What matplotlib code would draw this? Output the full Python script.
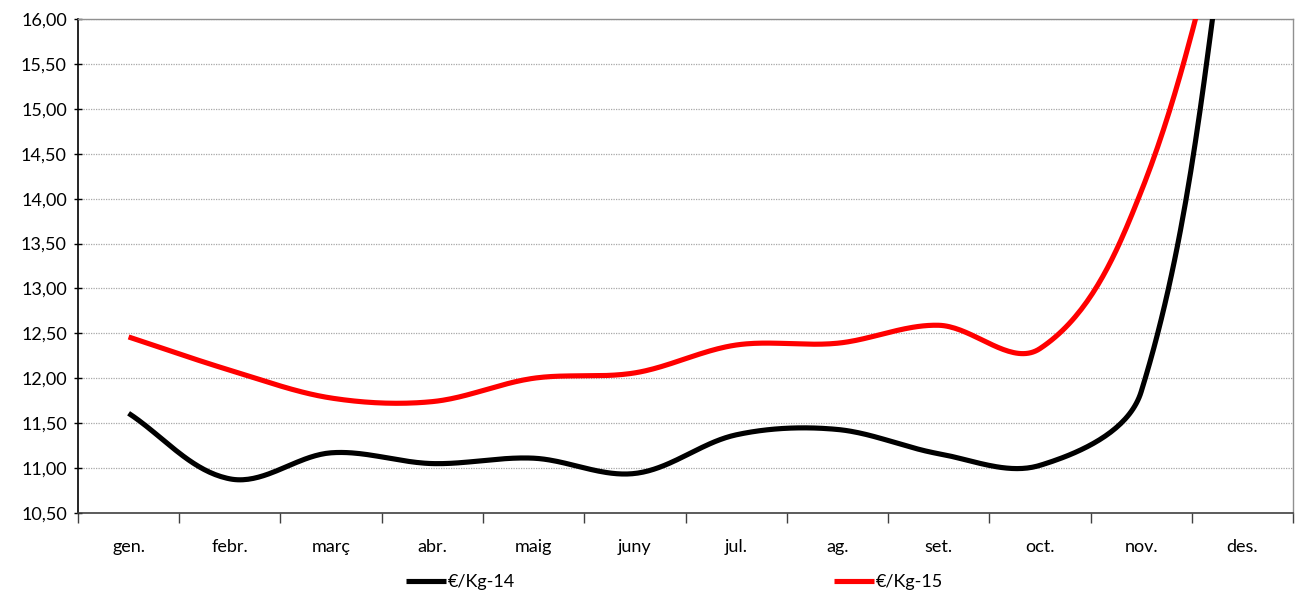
import numpy as np
import matplotlib.pyplot as plt
from matplotlib.ticker import FuncFormatter, MultipleLocator

months = ["gen.", "febr.", "març", "abr.", "maig", "juny", "jul.", "ag.", "set.", "oct.", "nov.", "des."]
kg_14 = [11.61, 10.88, 11.17, 11.05, 11.11, 10.94, 11.37, 11.43, 11.16, 11.03, 11.85, 18.3]
kg_15 = [12.46, 12.09, 11.78, 11.74, 12.00, 12.06, 12.37, 12.39, 12.59, 12.33, 14.08, 18.0]

plt.rcParams['font.family'] = ['Lato', 'DejaVu Sans']

fig = plt.figure(figsize=(12.95, 5.94), dpi=100)
ax = fig.add_axes([0.0602, 0.1364, 0.9383, 0.8316])

YMIN, YMAX = 10.5, 16.0
# pixels per x unit / per y unit, used so the smoothing works in screen space
PX_X, PX_Y = 101.25, 89.8


def smooth(ys, n=40):
    # excel-ish smoothed line: bezier with tangents from neighbours,
    # handle length a third of the segment length
    pts = np.array([[i * PX_X, y * PX_Y] for i, y in enumerate(ys)])
    m = len(pts)
    tang = []
    for i in range(m):
        a = pts[max(i - 1, 0)]
        b = pts[min(i + 1, m - 1)]
        d = b - a
        tang.append(d / np.hypot(*d))
    out = []
    for i in range(m - 1):
        p0, p3 = pts[i], pts[i + 1]
        L = np.hypot(*(p3 - p0)) / 3
        p1 = p0 + tang[i] * L
        p2 = p3 - tang[i + 1] * L
        t = np.linspace(0, 1, n)[:, None]
        seg = (1 - t) ** 3 * p0 + 3 * (1 - t) ** 2 * t * p1 + 3 * (1 - t) * t ** 2 * p2 + t ** 3 * p3
        out.append(seg if i == 0 else seg[1:])
    out = np.vstack(out)
    return out[:, 0] / PX_X, out[:, 1] / PX_Y


x14, y14 = smooth(kg_14)
x15, y15 = smooth(kg_15)
ax.plot(x14, y14, color='black', lw=3.7, solid_capstyle='butt', label='€/Kg-14', zorder=3)
ax.plot(x15, y15, color='red', lw=3.7, solid_capstyle='butt', label='€/Kg-15', zorder=3)

ax.set_xlim(-0.5, len(months) - 0.5)
ax.set_ylim(YMIN, YMAX)
ax.yaxis.set_major_locator(MultipleLocator(0.5))
ax.yaxis.set_major_formatter(FuncFormatter(lambda v, p: f"{v:.2f}".replace('.', ',')))
ax.grid(axis='y', color='#a8a8a8', lw=0.9, ls=(0, (1, 1)))
ax.set_axisbelow(True)

ax.set_xticks(np.arange(len(months)))
ax.set_xticklabels(months)
ax.set_xticks(np.arange(len(months) + 1) - 0.5, minor=True)
ax.tick_params(axis='x', which='major', length=0, pad=19, labelsize=13)
ax.tick_params(axis='x', which='minor', length=7, width=1, color='#404040', direction='out')
ax.tick_params(axis='y', length=6, width=1, direction='inout', labelsize=13, pad=5)

ax.spines['left'].set_color('black')
ax.spines['bottom'].set_color('#404040')
ax.spines['left'].set_linewidth(1.2)
ax.spines['bottom'].set_linewidth(1.2)
for s in ('top', 'right'):
    ax.spines[s].set_color('#909090')
    ax.spines[s].set_linewidth(1.0)

fig.legend(loc='lower left', bbox_to_anchor=(0.301, -0.021), ncol=2, frameon=False,
           fontsize=13, handlelength=2.2, handletextpad=0.1, columnspacing=17.7)

fig.savefig('out.png', dpi=100)
